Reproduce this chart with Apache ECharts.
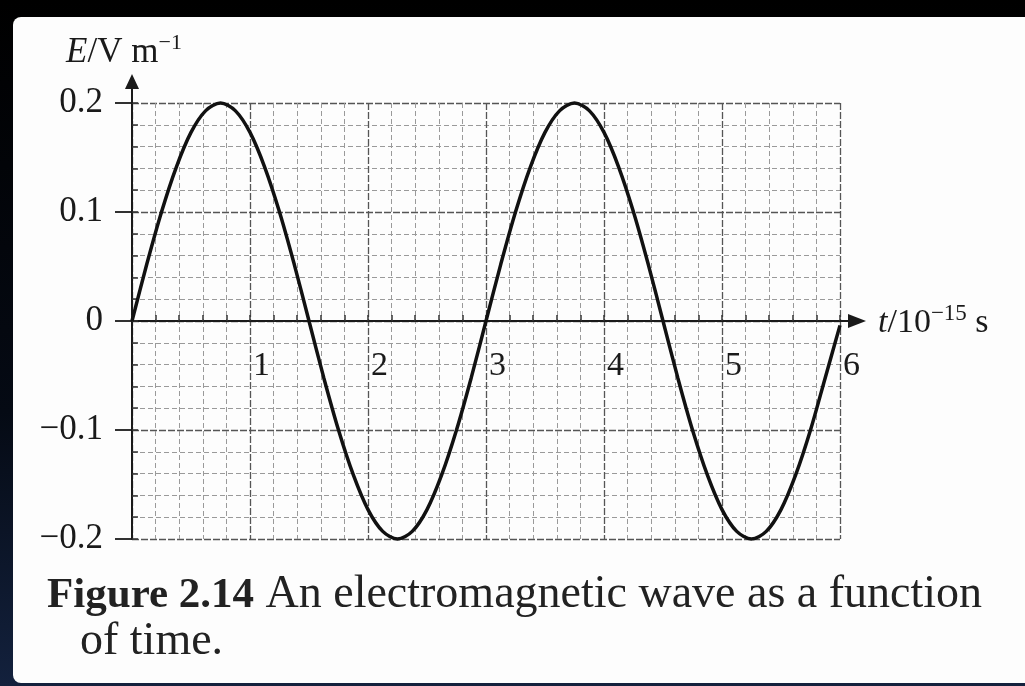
<!DOCTYPE html>
<html>
<head>
<meta charset="utf-8">
<script src="https://cdn.jsdelivr.net/npm/echarts@6/dist/echarts.min.js"></script>
<style>
  html, body { margin: 0; padding: 0; background: #000; }
  #chart { width: 1025px; height: 686px; }
</style>
</head>
<body>
<div id="chart"></div>
<script>
// Time samples, in units of 10^-15 s
const times = [
  0, 0.125, 0.25, 0.375, 0.5, 0.625, 0.75, 0.875, 1, 1.125, 1.25, 1.375,
  1.5, 1.625, 1.75, 1.875, 2, 2.125, 2.25, 2.375, 2.5, 2.625, 2.75, 2.875,
  3, 3.125, 3.25, 3.375, 3.5, 3.625, 3.75, 3.875, 4, 4.125, 4.25, 4.375,
  4.5, 4.625, 4.75, 4.875, 5, 5.125, 5.25, 5.375, 5.5, 5.625, 5.75, 5.875, 6
];
// Electric field E in V/m at each time sample
const fieldValues = [
  0, 0.052, 0.1, 0.141, 0.173, 0.193, 0.2, 0.193, 0.173, 0.141, 0.1, 0.052,
  0, -0.052, -0.1, -0.141, -0.173, -0.193, -0.2, -0.193, -0.173, -0.141, -0.1, -0.052,
  0, 0.052, 0.1, 0.141, 0.173, 0.193, 0.2, 0.193, 0.173, 0.141, 0.1, 0.052,
  0, -0.052, -0.1, -0.141, -0.173, -0.193, -0.2, -0.193, -0.173, -0.141, -0.1, -0.052,
  -0.004
];
// Tick labels
const xTickLabels = ['', '1', '2', '3', '4', '5', '6'];
const yTickLabels = ['\u22120.2', '\u22120.1', '0', '0.1', '0.2'];

const SERIF = '"Liberation Serif", "Times New Roman", serif';
const INK = '#1a1a1a';

// Plot layout
const W = 1025, H = 686;
const GRID = { left: 132, right: 185, top: 103, bottom: 147 };
const gridW = W - GRID.left - GRID.right;
const gridH = H - GRID.top - GRID.bottom;

const chart = echarts.init(document.getElementById('chart'), null, { renderer: 'canvas' });

const seriesData = times.map((t, i) => [t, fieldValues[i]]);

const minorTickStyle = { color: '#333', width: 1.5 };

const option = {
  backgroundColor: '#000',
  animation: false,
  grid: { left: GRID.left, right: GRID.right, top: GRID.top, bottom: GRID.bottom, containLabel: false },
  xAxis: [
    {
      // Time axis, drawn along E = 0
      type: 'value',
      min: 0, max: 6, interval: 1,
      position: 'bottom',
      offset: -gridH / 2,
      axisLine: { show: true, onZero: false, lineStyle: { color: INK, width: 2 } },
      axisTick: { show: false },
      axisLabel: {
        margin: 28, align: 'left', padding: [0, 0, 0, 3],
        fontFamily: SERIF, fontSize: 34, color: INK,
        formatter: v => xTickLabels[Math.round(v)] || ''
      },
      splitLine: { show: true, lineStyle: { color: '#555', width: 1.3, type: [7, 2] } },
      minorTick: { show: false, splitNumber: 5 },
      minorSplitLine: { show: true, lineStyle: { color: '#9a9a9a', width: 1, type: [5, 3] } },
      name: '{i|t}{n|/10}{s|\u221215}{n| s}',
      nameLocation: 'end',
      nameGap: 38,
      nameTextStyle: {
        align: 'left', verticalAlign: 'middle',
        rich: {
          i: { fontFamily: SERIF, fontStyle: 'italic', fontSize: 34, color: INK, verticalAlign: 'bottom', lineHeight: 38 },
          n: { fontFamily: SERIF, fontSize: 34, color: INK, verticalAlign: 'bottom', lineHeight: 38 },
          s: { fontFamily: SERIF, fontSize: 23, color: INK, verticalAlign: 'top', lineHeight: 38 }
        }
      }
    },
    {
      // Small upward ticks on the time axis at every minor division
      type: 'value',
      min: 0, max: 6, interval: 1,
      position: 'top',
      offset: -gridH / 2,
      axisLine: { show: false, onZero: false },
      axisLabel: { show: false },
      splitLine: { show: false },
      axisTick: { show: true, length: 6, lineStyle: minorTickStyle },
      minorTick: { show: true, splitNumber: 5, length: 6, lineStyle: minorTickStyle }
    }
  ],
  yAxis: [
    {
      type: 'value',
      min: -0.2, max: 0.2, interval: 0.1,
      position: 'left',
      axisLine: { show: true, onZero: false, lineStyle: { color: INK, width: 2 } },
      axisTick: { show: true, inside: false, length: 17, lineStyle: { color: INK, width: 1.8 } },
      axisLabel: {
        margin: 29, fontFamily: SERIF, fontSize: 35, color: INK,
        formatter: v => yTickLabels[Math.round((v + 0.2) / 0.1)]
      },
      splitLine: { show: true, lineStyle: { color: '#555', width: 1.3, type: [7, 2] } },
      minorTick: { show: false, splitNumber: 5 },
      minorSplitLine: { show: true, lineStyle: { color: '#9a9a9a', width: 1, type: [5, 3] } },
      name: '{i|E}{n|/V m}{s|\u22121}',
      nameLocation: 'end',
      nameGap: 33,
      nameTextStyle: {
        align: 'center', padding: [0, 16, 0, 0],
        rich: {
          i: { fontFamily: SERIF, fontStyle: 'italic', fontSize: 35, color: INK, verticalAlign: 'bottom', lineHeight: 38 },
          n: { fontFamily: SERIF, fontSize: 35, color: INK, verticalAlign: 'bottom', lineHeight: 38 },
          s: { fontFamily: SERIF, fontSize: 22, color: INK, verticalAlign: 'top', lineHeight: 38 }
        }
      }
    },
    {
      // Small ticks pointing into the plot at every minor division of the E axis
      type: 'value',
      min: -0.2, max: 0.2, interval: 0.1,
      position: 'right',
      offset: -gridW,
      axisLine: { show: false, onZero: false },
      axisLabel: { show: false },
      splitLine: { show: false },
      axisTick: { show: true, length: 6, lineStyle: minorTickStyle },
      minorTick: { show: true, splitNumber: 5, length: 6, lineStyle: minorTickStyle }
    }
  ],
  series: [{
    type: 'line',
    xAxisIndex: 0,
    yAxisIndex: 0,
    data: seriesData,
    showSymbol: false,
    smooth: 0.3,
    clip: false,
    lineStyle: { color: '#111', width: 3.5 },
    z: 5
  }],
  graphic: [
    {
      id: 'bgFrame', type: 'rect', z: -100, silent: true,
      shape: { x: 0, y: 0, width: W, height: H },
      style: { fill: new echarts.graphic.LinearGradient(0, 0, 0, 1, [
        { offset: 0, color: '#000' }, { offset: 0.6, color: '#050a14' }, { offset: 1, color: '#13213d' }
      ]) }
    },
    {
      id: 'page', type: 'rect', z: -99, silent: true,
      shape: { x: 13, y: 17, width: 1020, height: 666, r: [8, 0, 0, 8] },
      style: { fill: '#fdfdfd' }
    },
    {
      id: 'caption1', type: 'text', z: 10, silent: true,
      style: {
        x: 47, y: 594,
        text: '{b|Figure 2.14}{r| An electromagnetic wave as a function}',
        fontFamily: SERIF, fontSize: 46, fill: '#222',
        verticalAlign: 'middle',
        rich: {
          b: { fontFamily: SERIF, fontSize: 43, fontWeight: 'bold', fill: '#222', verticalAlign: 'bottom', lineHeight: 48, padding: [0, 0, 1, 0] },
          r: { fontFamily: SERIF, fontSize: 46, fill: '#222', verticalAlign: 'bottom', lineHeight: 48 }
        }
      }
    },
    {
      id: 'caption2', type: 'text', z: 10, silent: true,
      style: {
        x: 80, y: 642,
        text: 'of time.',
        fontFamily: SERIF, fontSize: 46, fill: '#222',
        verticalAlign: 'middle'
      }
    }
  ]
};

chart.setOption(option);

// Arrow-headed extensions of both axes beyond the plotting area
const origin = chart.convertToPixel({ xAxisIndex: 0, yAxisIndex: 0 }, [0, 0]);
const corner = chart.convertToPixel({ xAxisIndex: 0, yAxisIndex: 0 }, [6, 0.2]);
chart.setOption({
  graphic: [
    {
      id: 'xExt', type: 'line', z: 6, silent: true,
      shape: { x1: corner[0], y1: origin[1], x2: corner[0] + 12, y2: origin[1] },
      style: { stroke: INK, lineWidth: 2 }
    },
    {
      id: 'xArrow', type: 'polygon', z: 6, silent: true,
      shape: { points: [[corner[0] + 8, origin[1] - 7], [corner[0] + 26, origin[1]], [corner[0] + 8, origin[1] + 7]] },
      style: { fill: INK }
    },
    {
      id: 'yExt', type: 'line', z: 6, silent: true,
      shape: { x1: origin[0], y1: corner[1], x2: origin[0], y2: corner[1] - 16 },
      style: { stroke: INK, lineWidth: 2 }
    },
    {
      id: 'yArrow', type: 'polygon', z: 6, silent: true,
      shape: { points: [[origin[0] - 7, corner[1] - 14], [origin[0], corner[1] - 29], [origin[0] + 7, corner[1] - 14]] },
      style: { fill: INK }
    }
  ]
});
</script>
</body>
</html>
